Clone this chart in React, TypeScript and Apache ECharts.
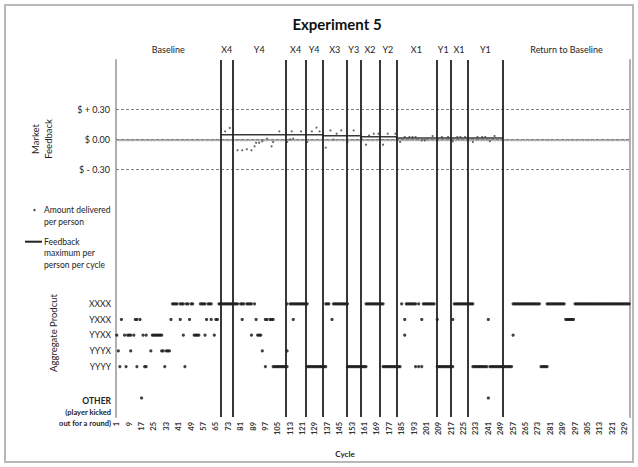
import React, { useEffect, useRef } from "react";
import * as echarts from "echarts";

const FONT = "Lato, 'Liberation Sans', sans-serif";

// ---- axis / tick data ----
const xTickLabels = [1, 9, 17, 25, 33, 41, 49, 57, 65, 73, 81, 89, 97, 105, 113, 121, 129, 137, 145, 153, 161, 169, 177, 185, 193, 201, 209, 217, 225, 233, 241, 249, 257, 265, 273, 281, 289, 297, 305, 313, 321, 329];
const cycleMin = 0.5;
const cycleMax = 332.5;

const phaseNames = ["Baseline", "X4", "Y4", "X4", "Y4", "X3", "Y3", "X2", "Y2", "X1", "Y1", "X1", "Y1", "Return to Baseline"];
const phaseBounds = [0.5, 68, 76, 110, 123, 134, 149.5, 158.6, 170.6, 181.6, 207.4, 216.4, 227.7, 250.5, 332.5];

const feedbackTicks = [0.3, 0, -0.3];
const feedbackTickLabels = ["$ + 0.30", "$ 0.00", "$ - 0.30"];

// ---- market feedback: amount delivered per person [cycle, $] ----
const feedbackDots = [
  [71, 0.08], [74, 0.115], [79, -0.11], [82, -0.11], [85, -0.1], [88, -0.11], [90, -0.07], [91, -0.035],
  [93, -0.035], [95, -0.02], [98, 0.007], [101, -0.07], [102, -0.027], [106, 0.08], [111, -0.027],
  [113, 0], [114, 0.08], [115, 0.007], [120, 0.08], [124, -0.027], [127, 0.08], [130, 0.118], [132, 0.08],
  [136, -0.084], [139, 0.09], [141, 0], [143, 0.057], [146, 0.09], [150, -0.027], [154, 0.09],
  [159, 0.013], [162, -0.054], [164, 0.04], [167, 0.057], [170, 0.057], [173, -0.054], [176, 0.057],
  [181, 0.057], [184, -0.027], [187, 0.023], [190, 0.023], [192, 0.023], [194, 0.023], [198, -0.01],
  [200, -0.01], [205, 0.033], [208, -0.003], [211, 0.023], [215, 0.023], [218, -0.02], [221, 0.023],
  [223, 0.023], [226, 0.023], [231, -0.027], [234, 0.023], [237, 0.023], [239, 0.023], [242, -0.02],
  [245, 0.033],
];

// feedback maximum per person per cycle (step segments)
const feedbackMaxFrom = [68, 134, 158.6, 181.6];
const feedbackMaxTo = [134, 158.6, 181.6, 250.5];
const feedbackMaxValue = [0.047, 0.036, 0.026, 0.013];

// ---- aggregate product rows ----
const productRows = ["XXXX", "YXXX", "YYXX", "YYYX", "YYYY", "OTHER"];
const productRowValues = [7, 6, 5, 4, 3, 1];

const xxxxCycles = [
  37, 38, 39, 40, 42, 43, 44, 46, 47, 49, 50, 55, 56, 57, 58, 60, 61, 62,
  67, 68, 69, 70, 71, 72, 73, 74, 75, 76, 77, 78, 79, 81, 82, 83, 85, 86, 87, 88, 90,
  111, 113, 114, 115, 116, 117, 118, 119, 120, 121, 122, 123, 124,
  136, 137, 138, 141, 142, 143, 144, 145, 146, 147, 148, 149, 150,
  162, 163, 164, 165, 166, 167, 168, 169, 170, 171, 172, 173,
  185, 188, 189, 190, 191, 192, 193, 194, 196, 199, 200, 201, 202, 203, 204, 205, 206,
  219, 220, 221, 222, 223, 224, 225, 226, 227, 228, 229, 230, 231,
  257, 258, 259, 260, 261, 262, 263, 264, 265, 266, 267, 268, 269, 270, 271, 272, 273, 274,
  279, 280, 281, 282, 283, 284, 285, 286, 287, 288, 289, 290,
  297, 298, 299, 300, 301, 302, 303, 304, 305, 306, 307, 308, 309, 310, 311, 312, 313, 314,
  315, 316, 317, 318, 319, 320, 321, 322, 323, 324, 325, 326, 327, 328, 329, 330, 331, 332,
];
const yxxxCycles = [4, 13, 14, 16, 36, 42, 48, 59, 62, 65, 66, 82, 91, 97, 98, 100, 101, 102, 115, 140, 187, 198, 208, 218, 241, 291, 292, 293, 294, 295, 296];
const yyxxCycles = [1, 6, 8, 9, 10, 12, 18, 20, 24, 25, 26, 27, 28, 29, 30, 44, 51, 52, 53, 54, 58, 64, 88, 92, 93, 94, 187, 257];
const yyyxCycles = [2, 10, 23, 30, 31, 33, 34, 35, 95, 111];
const yyyyCycles = [
  3, 7, 14, 19, 20, 32, 45, 97,
  102, 103, 104, 105, 106, 107, 108, 109, 110, 111,
  124, 125, 126, 127, 128, 129, 130, 131, 132, 133, 134, 135, 136,
  150, 151, 152, 153, 154, 155, 156, 157, 158, 159, 160, 161, 162,
  173, 174, 175, 176, 177, 178, 179, 180, 181, 182, 183, 184,
  194, 196, 198,
  208, 209, 210, 211, 212, 213, 214, 215, 216, 217, 218,
  231, 232, 233, 234, 235, 236, 237, 238, 239, 240,
  242, 243, 244, 245, 246, 247, 248, 249, 250, 251, 252, 253, 254, 255, 256,
  275, 276, 277, 278, 279,
];
const otherCycles = [17, 241];

const productCycles = [xxxxCycles, yxxxCycles, yyxxCycles, yyyxCycles, yyyyCycles, otherCycles];

function buildOption() {
  const stepData: number[][] = [];
  feedbackMaxFrom.forEach((f, i) => {
    stepData.push([f, feedbackMaxValue[i]]);
    stepData.push([feedbackMaxTo[i], feedbackMaxValue[i]]);
  });

  const productSeries = productRows.map((name, i) => {
    const s: any = {
      type: "scatter",
      name,
      xAxisIndex: 0,
      yAxisIndex: 1,
      symbol: "circle",
      symbolSize: 3.2,
      itemStyle: { color: "#111" },
      silent: true,
      data: productCycles[i].map((c) => [c, productRowValues[i]]),
    };
    if (i === 0) {
      s.markLine = {
        silent: true,
        symbol: ["none", "none"],
        label: { show: false },
        lineStyle: { color: "#222", width: 1.8, type: "solid" },
        data: phaseBounds.slice(1, -1).map((v) => ({ xAxis: v })),
      };
      s.markArea = {
        silent: true,
        itemStyle: { color: "rgba(0,0,0,0)" },
        label: { show: true, position: "top", distance: 6, fontSize: 9, color: "#222", fontFamily: FONT },
        data: phaseNames.map((n, k) => [{ name: n, xAxis: phaseBounds[k] }, { xAxis: phaseBounds[k + 1] }]),
      };
    }
    return s;
  });

  return {
    animation: false,
    backgroundColor: "#fff",
    textStyle: { fontFamily: FONT },
    title: {
      text: "Experiment 5",
      left: 332,
      top: 11,
      textAlign: "center",
      textStyle: { fontSize: 15, fontWeight: "bold", color: "#111", fontFamily: FONT },
    },
    grid: { left: 116, top: 60, right: 8, bottom: 50, containLabel: false },
    xAxis: {
      type: "value",
      min: cycleMin,
      max: cycleMax,
      name: "Cycle",
      nameLocation: "middle",
      nameGap: 33,
      nameTextStyle: { fontSize: 8, fontWeight: "bold", color: "#222", padding: [0, 56, 0, 0], fontFamily: FONT },
      axisLine: { show: true, lineStyle: { color: "#b0b0b0", width: 2 } },
      axisTick: { show: true, length: 2, lineStyle: { color: "#b0b0b0" }, customValues: Array.from({ length: 333 }, (_, k) => k + 0.5) },
      axisLabel: {
        customValues: xTickLabels,
        rotate: 90,
        margin: 5,
        fontSize: 7.5,
        fontWeight: "bold",
        color: "#333",
        fontFamily: FONT,
        formatter: (v: number) => String(v),
      },
      splitLine: { show: false },
    },
    yAxis: [
      {
        type: "value",
        min: -2.8,
        max: 0.8,
        position: "left",
        axisLine: { show: true, lineStyle: { color: "#b0b0b0", width: 2 } },
        axisTick: { show: false },
        splitLine: { show: false },
        axisLabel: {
          customValues: feedbackTicks,
          margin: 6,
          fontSize: 9,
          color: "#222",
          fontFamily: FONT,
          formatter: (v: number) => {
            const i = feedbackTicks.findIndex((t) => Math.abs(t - v) < 1e-9);
            return i >= 0 ? feedbackTickLabels[i] : "";
          },
        },
      },
      {
        type: "value",
        min: -0.21,
        max: 22.53,
        position: "left",
        axisLine: { show: false },
        axisTick: { show: false },
        splitLine: { show: false },
        axisLabel: {
          customValues: productRowValues,
          margin: 5,
          fontSize: 8.5,
          color: "#222",
          fontFamily: FONT,
          formatter: (v: number) => {
            const i = productRowValues.indexOf(Math.round(v));
            if (i < 0) return "";
            const n = productRows[i];
            if (n === "OTHER") return "{sp| }\n{o|OTHER}\n{s|(player kicked}\n{s|out for a round)}";
            return n;
          },
          rich: {
            sp: { lineHeight: 28, fontSize: 8 },
            o: { fontSize: 8.5, fontWeight: "bold", lineHeight: 11, color: "#222", fontFamily: FONT },
            s: { fontSize: 7.5, fontWeight: "bold", lineHeight: 11, color: "#222", fontFamily: FONT },
          },
        },
      },
      {
        type: "value",
        min: 0,
        max: 1,
        position: "right",
        axisLine: { show: true, lineStyle: { color: "#b0b0b0", width: 2 } },
        axisTick: { show: false },
        axisLabel: { show: false },
        splitLine: { show: false },
      },
    ],
    series: [
      {
        type: "scatter",
        name: "Amount delivered per person",
        xAxisIndex: 0,
        yAxisIndex: 0,
        symbol: "circle",
        symbolSize: 2.2,
        itemStyle: { color: "#444" },
        silent: true,
        data: feedbackDots,
        markLine: {
          silent: true,
          symbol: ["none", "none"],
          label: { show: false },
          lineStyle: { color: "#808080", width: 1, type: [3, 2] },
          data: feedbackTicks.map((t) => ({ yAxis: t })),
        },
      },
      {
        type: "line",
        name: "Feedback maximum per person per cycle",
        xAxisIndex: 0,
        yAxisIndex: 0,
        symbol: "none",
        silent: true,
        lineStyle: { color: "#3a3a3a", width: 1.5 },
        data: stepData,
      },
      ...productSeries,
    ],
    graphic: [
      { type: "rect", silent: true, shape: { x: 5, y: 5, width: 628, height: 457 }, style: { fill: "none", stroke: "#b8b8b8", lineWidth: 2 } },
      {
        type: "text", silent: true, x: 41.5, y: 139, rotation: Math.PI / 2,
        style: { text: "Market\nFeedback", fontSize: 9.5, lineHeight: 13, align: "center", verticalAlign: "middle", fill: "#222", fontFamily: FONT },
      },
      {
        type: "text", silent: true, x: 53, y: 333, rotation: Math.PI / 2,
        style: { text: "Aggregate Prodcut", fontSize: 9.5, align: "center", verticalAlign: "middle", fill: "#222", fontFamily: FONT },
      },
      { type: "circle", silent: true, shape: { cx: 34.5, cy: 210, r: 1.2 }, style: { fill: "#444" } },
      {
        type: "text", silent: true, x: 44, y: 204.3,
        style: { text: "Amount delivered\nper person", fontSize: 8.5, lineHeight: 11.6, align: "left", verticalAlign: "top", fill: "#222", fontFamily: FONT },
      },
      { type: "line", silent: true, shape: { x1: 25, y1: 241.7, x2: 42, y2: 241.7 }, style: { stroke: "#222", lineWidth: 2 } },
      {
        type: "text", silent: true, x: 44, y: 236,
        style: { text: "Feedback\nmaximum per\nperson per cycle", fontSize: 8.5, lineHeight: 11.6, align: "left", verticalAlign: "top", fill: "#222", fontFamily: FONT },
      },
    ],
  };
}

export default function App() {
  const ref = useRef<HTMLDivElement>(null);
  useEffect(() => {
    if (!ref.current) return;
    const chart = echarts.init(ref.current, null, { renderer: "svg" });
    chart.setOption(buildOption() as any);
    return () => chart.dispose();
  }, []);
  return (
    <div
      ref={ref}
      style={{ position: "absolute", left: 0, top: 0, width: 638, height: 467, background: "#fff" }}
    />
  );
}
